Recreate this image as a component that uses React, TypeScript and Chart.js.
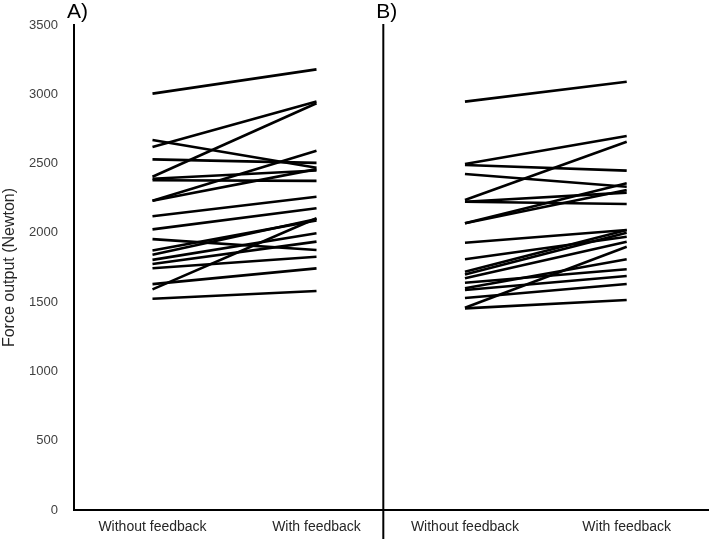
import React, { useEffect, useRef } from "react";
import { Chart, registerables } from "chart.js";

Chart.register(...registerables);

const categories = ["Without feedback", "With feedback"];
const panelLabels = ["A)", "B)"];
const yAxisTitle = "Force output (Newton)";

// x positions (data units) of the two categories in each panel, plus the panel divider
const panelAX = [1.236, 3.819];
const panelBX = [6.157, 8.704];
const dividerX = 4.871;

const panelAWithout = [3005, 2670, 2620, 2530, 2405, 2390, 2380, 2232, 2232, 2120, 2025, 1955, 1872, 1842, 1805, 1775, 1745, 1630, 1592, 1525];
const panelAWith = [3180, 2470, 2948, 2505, 2935, 2450, 2375, 2593, 2460, 2260, 2177, 1876, 2090, 2100, 1997, 1937, 1828, 1744, 2105, 1580];

const panelBWithout = [2947, 2497, 2490, 2425, 2237, 2225, 2225, 2069, 2069, 1929, 1809, 1720, 1700, 1672, 1640, 1600, 1588, 1530, 1460, 1455];
const panelBWith = [3091, 2699, 2449, 2333, 2658, 2290, 2208, 2358, 2309, 2021, 1972, 2021, 2001, 1936, 1737, 1809, 1689, 1631, 1900, 1515];

const FONT = "'Liberation Sans', Arial, sans-serif";

export default function App() {
  const ref = useRef<HTMLCanvasElement | null>(null);

  useEffect(() => {
    if (!ref.current) return;
    const mk = (xs: number[], a: number[], b: number[]) =>
      a.map((v, i) => ({
        data: [
          { x: xs[0], y: v },
          { x: xs[1], y: b[i] },
        ],
        borderColor: "#000",
        borderWidth: 2.6,
        pointRadius: 0,
        fill: false,
      }));
    const datasets = [
      ...mk(panelAX, panelAWithout, panelAWith),
      ...mk(panelBX, panelBWithout, panelBWith),
    ];
    const tickXs = [...panelAX, ...panelBX];

    const panelPlugin = {
      id: "panels",
      afterDraw(chart: any) {
        const { ctx, chartArea } = chart;
        const x = chart.scales.x;
        const xd = x.getPixelForValue(dividerX);
        ctx.save();
        ctx.strokeStyle = "#000";
        ctx.lineWidth = 2;
        ctx.beginPath();
        ctx.moveTo(xd, chartArea.top - 1);
        ctx.lineTo(xd, chart.height);
        ctx.stroke();
        ctx.fillStyle = "#000";
        ctx.font = `21px ${FONT}`;
        ctx.textBaseline = "top";
        ctx.textAlign = "left";
        ctx.fillText(panelLabels[0], chartArea.left - 7, 2);
        ctx.fillText(panelLabels[1], xd - 7, 2);
        ctx.restore();
      },
    };

    const chart = new Chart(ref.current, {
      type: "line",
      data: { datasets: datasets as any },
      options: {
        animation: false,
        responsive: false,
        parsing: false as any,
        layout: { padding: { top: 25, right: 0, bottom: 0, left: 0 } },
        plugins: { legend: { display: false }, tooltip: { enabled: false } },
        scales: {
          x: {
            type: "linear",
            min: 0,
            max: 10,
            grid: { display: false, drawTicks: false },
            border: { color: "#000", width: 2 },
            afterBuildTicks: (scale: any) => {
              scale.ticks = tickXs.map((v) => ({ value: v }));
            },
            afterFit: (scale: any) => {
              scale.height = 29;
            },
            ticks: {
              autoSkip: false,
              maxRotation: 0,
              padding: 9,
              color: "#262626",
              font: { family: FONT, size: 14 },
              callback: (value: any) => {
                const i = tickXs.indexOf(Number(value));
                return i >= 0 ? categories[i % 2] : "";
              },
            },
          },
          y: {
            min: 0,
            max: 3500,
            grid: { display: false, drawTicks: false },
            border: { color: "#000", width: 2 },
            afterFit: (scale: any) => {
              scale.width = 74;
            },
            ticks: {
              stepSize: 500,
              padding: 16,
              color: "#404040",
              font: { family: FONT, size: 13 },
              callback: (value: any) => String(value),
            },
            title: {
              display: true,
              text: yAxisTitle,
              color: "#262626",
              font: { family: FONT, size: 16 },
              padding: 0,
            },
          },
        },
      },
      plugins: [panelPlugin],
    });
    return () => chart.destroy();
  }, []);

  return (
    <div style={{ position: "fixed", left: 0, top: 0, width: 709, height: 539, background: "#fff" }}>
      <canvas ref={ref} width={709} height={539} style={{ width: 709, height: 539, display: "block" }} />
    </div>
  );
}
